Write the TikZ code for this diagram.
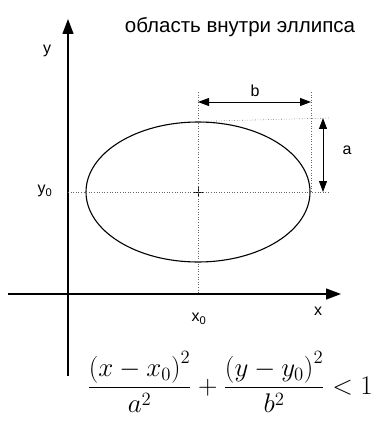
\documentclass[tikz,border=0pt]{standalone}
\usepackage[no-math]{fontspec}
\setmainfont{Liberation Sans}
\usepackage{amsmath}
\usetikzlibrary{arrows.meta, positioning, shapes.geometric}

\begin{document}
\begin{tikzpicture}[
      x=1pt, y=-1pt,
      axis/.style={line width=1.3pt, -{Triangle[length=15pt, width=11pt]}},
      dimline/.style={line width=0.9pt, {Triangle[length=11pt, width=8pt]}-{Triangle[length=11pt, width=8pt]}},
      guide/.style={dotted, line width=0.6pt, black!60},
      oval/.style={ellipse, draw, line width=1.1pt, minimum width=224pt,
                   minimum height=140pt, inner sep=0pt},
      lbl/.style={font=\fontsize{16}{18}\selectfont, inner sep=1pt}
    ]
    \useasboundingbox (0,0) rectangle (373,422);
    % axes
    \coordinate (xl) at (8,294);
    \coordinate (xr) at (341,294);
    \coordinate (yb) at (68,376);
    \coordinate (yt) at (68,19);
    \draw[axis] (xl) -- (xr);
    \draw[axis] (yb) -- (yt);
    % ellipse and its centre
    \node[oval] (ell) at (198,192) {};
    \draw[line width=0.8pt] ([xshift=-5pt]ell.center) -- ([xshift=5pt]ell.center)
                            ([yshift=-5pt]ell.center) -- ([yshift=5pt]ell.center);
    % guide lines
    \coordinate (gc) at (198,92);
    \coordinate (ge) at (311,92);
    \coordinate (gt) at (330,118);
    \coordinate (gm) at (330,192);
    \draw[guide] (gc) -- (gc |- xl);
    \draw[guide] (ge) -- (ge |- gm);
    \draw[guide] (ell.north) -- (gt);
    \draw[guide] (ell.center -| yb) -- (gm);
    % dimensions
    \coordinate (bl) at (198,102);
    \coordinate (br) at (311,102);
    \coordinate (at) at (323,118);
    \coordinate (ab) at (323,192);
    \draw[dimline] (bl) -- (br);
    \draw[dimline] (at) -- (ab);
    % labels
    \node[lbl] (ylab)  at (47,51)   {y};
    \node[lbl] (y0lab) at (45,191)  {y\textsubscript{0}};
    \node[lbl] (x0lab) at (199,319) {x\textsubscript{0}};
    \node[lbl] (xlab)  at (318,311) {x};
    \node[lbl] (blab)  at (255,91)  {b};
    \node[lbl] (alab)  at (347,150) {a};
    \node[font=\fontsize{20.5}{24}\selectfont] (title) at (240,27) {область внутри эллипса};
    \node[font=\fontsize{20}{24}\selectfont, scale=1.3] (rule) at (230,382)
      {$\dfrac{\left(x-x_0\right)^2}{a^2}+\dfrac{\left(y-y_0\right)^2}{b^2}<1$};
  \end{tikzpicture}
\end{document}
